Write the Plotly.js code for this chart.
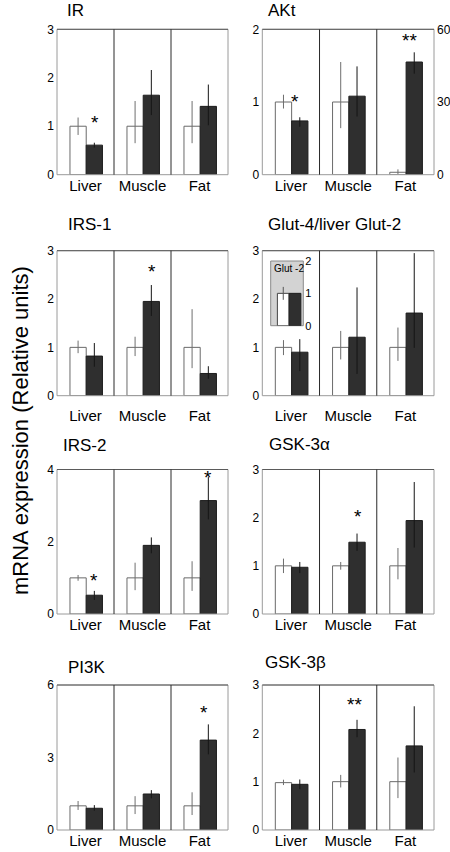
<!DOCTYPE html>
<html>
<head>
<meta charset="utf-8">
<script src="https://cdn.plot.ly/plotly-3.0.1.min.js"></script>
<style>html,body{margin:0;padding:0;background:#fff;}#chart{width:450px;height:852px;}</style>
</head>
<body>
<div id="chart"></div>
<script>
// ---------------- DATA ----------------
const tissues = ['Liver', 'Muscle', 'Fat'];
const panelTitles = ['IR', 'AKt', 'IRS-1', 'Glut-4/liver Glut-2', 'IRS-2', 'GSK-3\u03b1', 'PI3K', 'GSK-3\u03b2'];
const yMax = [3, 2, 3, 3, 4, 3, 6, 3];
const yTicks = [[0,1,2,3],[0,1,2],[0,1,2,3],[0,1,2,3],[0,2,4],[0,1,2,3],[0,3,6],[0,1,2,3]];

// control (white) means and error bars, per panel: [Liver, Muscle, Fat]
const ctrlMean = [
  [1.00, 1.00, 1.00],
  [1.00, 1.00, 1.00],   // AKt fat on right axis (0-60)
  [1.00, 1.00, 1.00],
  [1.00, 1.00, 1.00],
  [1.00, 1.00, 1.00],
  [1.00, 1.00, 1.00],
  [1.00, 1.00, 1.00],
  [0.98, 1.00, 1.00]
];
const ctrlErrUp = [
  [0.18, 0.52, 0.52],
  [0.10, 0.55, 1.20],
  [0.14, 0.22, 0.79],
  [0.15, 0.34, 0.41],
  [0.08, 0.42, 0.46],
  [0.15, 0.08, 0.37],
  [0.20, 0.40, 0.56],
  [0.06, 0.14, 0.50]
];
const ctrlErrDown = [
  [0.18, 0.35, 0.35],
  [0.09, 0.36, 1.00],
  [0.12, 0.18, 0.43],
  [0.16, 0.25, 0.28],
  [0.08, 0.34, 0.36],
  [0.15, 0.08, 0.28],
  [0.17, 0.34, 0.38],
  [0.05, 0.12, 0.34]
];
// treated (black) means and error bars
const trtMean = [
  [0.61, 1.64, 1.41],
  [0.74, 1.08, 46.5],   // AKt fat on right axis (0-60)
  [0.82, 1.95, 0.46],
  [0.90, 1.21, 1.71],
  [0.52, 1.90, 3.14],
  [0.97, 1.49, 1.94],
  [0.90, 1.49, 3.72],
  [0.945, 2.08, 1.74]
];
const trtErrUp = [
  [0.05, 0.52, 0.45],
  [0.05, 0.41, 4.0],
  [0.27, 0.34, 0.15],
  [0.27, 1.03, 1.24],
  [0.12, 0.22, 0.65],
  [0.11, 0.18, 0.80],
  [0.13, 0.16, 0.65],
  [0.10, 0.20, 0.82]
];
const trtErrDown = [
  [0.05, 0.41, 0.39],
  [0.08, 0.28, 4.8],
  [0.22, 0.30, 0.11],
  [0.39, 0.76, 0.72],
  [0.13, 0.22, 0.52],
  [0.12, 0.18, 0.56],
  [0.10, 0.18, 0.59],
  [0.10, 0.16, 0.55]
];
// AKt right axis
const aktRightTicks = [0, 30, 60];
const aktRightMax = 60;
const aktRightTissue = 2; // Fat plotted on right axis

// significance marks
const starPanel  = [0, 1, 1, 2, 4, 4, 5, 6, 7];
const starTissue = [0, 0, 2, 1, 0, 2, 1, 2, 1];
const starY      = [1.17, 1.07, 1.92, 2.67, 1.06, 3.93, 2.12, 5.08, 2.69];
const starText   = ['*', '*', '**', '*', '*', '*', '*', '*', '**'];
const starDx     = [0.02, -0.09, -0.08, 0.01, 0.0, -0.01, 0.01, -0.07, -0.05];

// inset: liver Glut-2
const glut2Label = 'Glut -2';
const glut2Ctrl = [1.0], glut2CtrlErr = [0.2];
const glut2Trt = [1.0], glut2TrtErr = [0.0];
const glut2Ticks = [0, 1, 2];
const glut2Max = 2;

// ---------------- LAYOUT ----------------
const W = 450, H = 852;
const colX = [[57, 228], [262.3, 434]];
const rowY = [[29.3, 174.7], [250.7, 395.7], [469.5, 614], [685, 830]];
const rowLabelStandoff = [9.5, 9, 7.5, 5.5];
const titlePos = [[66, 0], [267, 0], [66, 225], [266, 225], [61, 445.5], [267, 444.5], [66, 667], [263, 662.5]];
const whiteOff = 0.37, blackOff = 0.655, barW = 0.285;
const WHITE_LINE = '#6a6a6a', BLACK_FILL = '#2f2f2f';
const FONT = 'Liberation Sans, Arial, Helvetica, sans-serif';

const layout = {
  width: W, height: H,
  margin: {l: 0, r: 0, t: 0, b: 0},
  paper_bgcolor: '#ffffff', plot_bgcolor: 'rgba(0,0,0,0)',
  showlegend: false, barmode: 'overlay',
  font: {family: FONT, color: '#000'},
  annotations: [], shapes: []
};
const traces = [];

function ax(n) { return n === 1 ? '' : String(n); }

for (let p = 0; p < 8; p++) {
  const n = p + 1, s = ax(n);
  const col = p % 2, row = Math.floor(p / 2);
  const xd = [colX[col][0] / W, colX[col][1] / W];
  const yd = [1 - rowY[row][1] / H, 1 - rowY[row][0] / H];
  layout['xaxis' + s] = {
    domain: xd, anchor: 'y' + s, range: [0, 3],
    tickvals: [0.5, 1.5, 2.5], ticktext: tissues, ticks: '',
    showgrid: false, zeroline: false, showline: false,
    tickfont: {size: 15, color: '#000'}, ticklabelstandoff: rowLabelStandoff[row], fixedrange: true
  };
  layout['yaxis' + s] = {
    domain: yd, anchor: 'x' + s, range: [0, yMax[p]],
    tickvals: yTicks[p], ticks: '', showgrid: false, zeroline: false, showline: false,
    tickfont: {size: 12, color: '#000'}, ticklabelstandoff: 2, fixedrange: true
  };

  const leftIdx = [0, 1, 2].filter(i => !(p === 1 && i === aktRightTissue));
  const groups = [{idx: leftIdx, ya: 'y' + s}];
  if (p === 1) groups.push({idx: [aktRightTissue], ya: 'y9'});

  groups.forEach(g => {
    traces.push({
      type: 'bar', xaxis: 'x' + s, yaxis: g.ya,
      x: g.idx.map(i => i + whiteOff), y: g.idx.map(i => ctrlMean[p][i]), width: barW,
      marker: {color: '#ffffff', line: {color: WHITE_LINE, width: 1}},
      error_y: {type: 'data', symmetric: false, array: g.idx.map(i => ctrlErrUp[p][i]),
        arrayminus: g.idx.map(i => ctrlErrDown[p][i]), color: '#6e6e6e', thickness: 1, width: 0},
      hoverinfo: 'skip'
    });
    traces.push({
      type: 'bar', xaxis: 'x' + s, yaxis: g.ya,
      x: g.idx.map(i => i + blackOff), y: g.idx.map(i => trtMean[p][i]), width: barW,
      marker: {color: BLACK_FILL, line: {color: '#1e1e1e', width: 1}},
      error_y: {type: 'data', symmetric: false, array: g.idx.map(i => trtErrUp[p][i]),
        arrayminus: g.idx.map(i => trtErrDown[p][i]), color: '#151515', thickness: 1, width: 0},
      hoverinfo: 'skip'
    });
  });

  // frame
  layout.shapes.push({type: 'rect', xref: 'x' + s + ' domain', yref: 'y' + s + ' domain',
    x0: 0, x1: 1, y0: 0, y1: 1, line: {color: '#9a9a9a', width: 1}, layer: 'above'});
  layout.shapes.push({type: 'line', xref: 'x' + s + ' domain', yref: 'y' + s + ' domain',
    x0: 0, x1: 1, y0: 1, y1: 1, line: {color: '#5a5a5a', width: 1}, layer: 'above'});
  [1, 2].forEach(d => layout.shapes.push({type: 'line', xref: 'x' + s, yref: 'y' + s + ' domain',
    x0: d, x1: d, y0: 0, y1: 1, line: {color: '#2a2a2a', width: 1}, layer: 'above'}));

  const topRow = row === 0;
  layout.annotations.push({text: panelTitles[p], xref: 'paper', yref: 'paper',
    x: titlePos[p][0] / W, y: 1 - titlePos[p][1] / H, xanchor: 'left',
    yanchor: topRow ? 'top' : 'middle', borderpad: topRow ? 0 : 1,
    showarrow: false, font: {size: 17, color: '#000'}});
}

// AKt right axis
layout.yaxis9 = {overlaying: 'y2', side: 'right', anchor: 'x2', range: [0, aktRightMax],
  tickvals: aktRightTicks, ticks: '', showgrid: false, zeroline: false, showline: false,
  tickfont: {size: 12, color: '#000'}, ticklabelstandoff: 2, fixedrange: true};

// significance stars
starPanel.forEach((p, k) => {
  const s = ax(p + 1);
  layout.annotations.push({text: starText[k], xref: 'x' + s, yref: 'y' + s,
    x: starTissue[k] + blackOff + starDx[k], y: starY[k], showarrow: false,
    xanchor: 'center', yanchor: 'middle', yshift: -5,
    font: {size: 19, color: '#000'}});
});

// inset Glut-2
const inX = [270.7, 303.3], inY = [261, 325.7];
layout.xaxis10 = {domain: [inX[0] / W, inX[1] / W], anchor: 'y10', range: [0, 1],
  showticklabels: false, ticks: '', showgrid: false, zeroline: false, showline: false, fixedrange: true};
layout.yaxis10 = {domain: [1 - inY[1] / H, 1 - inY[0] / H], anchor: 'x10', side: 'right',
  range: [0, glut2Max], tickvals: glut2Ticks, ticks: '', showgrid: false, zeroline: false, showline: false,
  tickfont: {size: 11, color: '#000'}, ticklabelstandoff: 1, fixedrange: true};
layout.shapes.push({type: 'rect', xref: 'x10 domain', yref: 'y10 domain', x0: 0, x1: 1, y0: 0, y1: 1,
  fillcolor: '#d3d3d3', line: {color: '#8a8a8a', width: 1}, layer: 'below'});
traces.push({type: 'bar', xaxis: 'x10', yaxis: 'y10', x: [0.385], y: glut2Ctrl, width: 0.36,
  marker: {color: '#ffffff', line: {color: '#444', width: 1}},
  error_y: {type: 'data', array: glut2CtrlErr, color: '#555', thickness: 1, width: 0}, hoverinfo: 'skip'});
traces.push({type: 'bar', xaxis: 'x10', yaxis: 'y10', x: [0.745], y: glut2Trt, width: 0.36,
  marker: {color: BLACK_FILL, line: {color: '#1e1e1e', width: 1}},
  error_y: {type: 'data', array: glut2TrtErr, color: '#151515', thickness: 1, width: 0}, hoverinfo: 'skip'});
layout.annotations.push({text: glut2Label, xref: 'paper', yref: 'paper', x: 271.5 / W, y: 1 - 268.3 / H,
  xanchor: 'left', yanchor: 'middle', showarrow: false, font: {size: 10, color: '#000'}});

// overall y title
layout.annotations.push({text: 'mRNA expression (Relative units)', xref: 'paper', yref: 'paper',
  x: 20 / W, y: 1 - 431 / H, xanchor: 'center', yanchor: 'middle', textangle: -90, showarrow: false,
  font: {size: 22, color: '#000'}});

Plotly.newPlot('chart', traces, layout, {staticPlot: true, displayModeBar: false});
</script>
</body>
</html>
